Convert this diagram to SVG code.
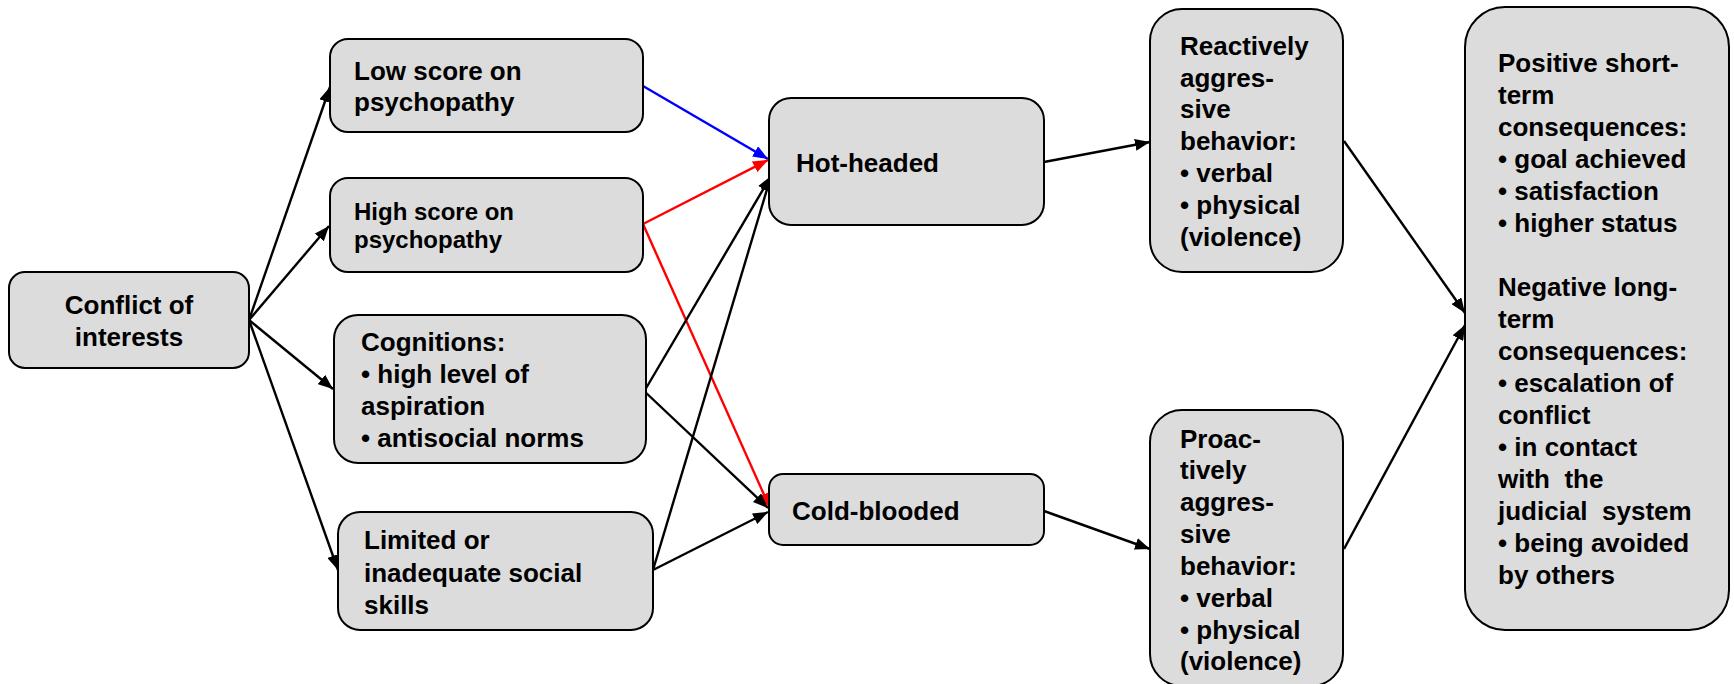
<svg xmlns="http://www.w3.org/2000/svg" width="1734" height="684" viewBox="0 0 1734 684">
<style>
.box{fill:#dcdcdc;stroke:#000;stroke-width:2}
.t{font-family:"Liberation Sans",Arial,sans-serif;font-weight:bold;font-size:26px;fill:#000}
.s{font-size:24px}
.c{stroke-width:2.4;fill:none}
.k{stroke:#000;marker-end:url(#ak)}
.r{stroke:#f00;marker-end:url(#ar)}
.b{stroke:#00f;marker-end:url(#ab)}
</style>
<defs>
<marker id="ak" markerUnits="userSpaceOnUse" markerWidth="16" markerHeight="12" refX="15" refY="6" orient="auto"><path d="M0,0 L15,6 L0,12 z" fill="#000"/></marker>
<marker id="ar" markerUnits="userSpaceOnUse" markerWidth="16" markerHeight="12" refX="15" refY="6" orient="auto"><path d="M0,0 L15,6 L0,12 z" fill="#f00"/></marker>
<marker id="ab" markerUnits="userSpaceOnUse" markerWidth="16" markerHeight="12" refX="15" refY="6" orient="auto"><path d="M0,0 L15,6 L0,12 z" fill="#00f"/></marker>
</defs>
<rect width="1734" height="684" fill="#fff"/>
<g id="connectors">
<line class="c k" x1="249" y1="320" x2="330" y2="87"/>
<line class="c k" x1="249" y1="320" x2="329" y2="226"/>
<line class="c k" x1="249" y1="320" x2="333" y2="389"/>
<line class="c k" x1="249" y1="320" x2="338" y2="570"/>
<line class="c b" x1="643" y1="86" x2="768" y2="159"/>
<line class="c r" x1="643" y1="224" x2="768" y2="160"/>
<line class="c r" x1="643" y1="224" x2="770" y2="508"/>
<line class="c k" x1="645" y1="390" x2="771" y2="176"/>
<line class="c k" x1="643" y1="390" x2="768" y2="508"/>
<line class="c k" x1="653" y1="570" x2="771" y2="176"/>
<line class="c k" x1="653" y1="570" x2="768" y2="512"/>
<line class="c k" x1="1044" y1="162" x2="1150" y2="142"/>
<line class="c k" x1="1044" y1="511" x2="1150" y2="549"/>
<line class="c k" x1="1344" y1="141" x2="1465" y2="313"/>
<line class="c k" x1="1344" y1="549" x2="1465" y2="325"/>
</g>
<g id="conflict">
<rect class="box" x="9" y="272" width="240" height="96" rx="16"/>
<text class="t" x="129" y="314" text-anchor="middle">Conflict of</text>
<text class="t" x="129" y="346" text-anchor="middle">interests</text>
</g>
<g id="low">
<rect class="box" x="330" y="39" width="313" height="93" rx="18"/>
<text class="t" x="354" y="80">Low score on</text>
<text class="t" x="354" y="111">psychopathy</text>
</g>
<g id="high">
<rect class="box" x="330" y="178" width="313" height="94" rx="18"/>
<text class="t s" x="354" y="220">High score on</text>
<text class="t s" x="354" y="248">psychopathy</text>
</g>
<g id="cognitions">
<rect class="box" x="334" y="315" width="312" height="148" rx="24"/>
<text class="t" x="361" y="351">Cognitions:</text>
<text class="t" x="361" y="383">• high level of</text>
<text class="t" x="361" y="415">aspiration</text>
<text class="t" x="361" y="447">• antisocial norms</text>
</g>
<g id="limited">
<rect class="box" x="338" y="512" width="315" height="118" rx="22"/>
<text class="t" x="364" y="549">Limited or</text>
<text class="t" x="364" y="582">inadequate social</text>
<text class="t" x="364" y="614">skills</text>
</g>
<g id="hot">
<rect class="box" x="769" y="98" width="275" height="127" rx="22"/>
<text class="t" x="796" y="172">Hot-headed</text>
</g>
<g id="cold">
<rect class="box" x="769" y="474" width="275" height="71" rx="14"/>
<text class="t" x="792" y="520">Cold-blooded</text>
</g>
<g id="reactive">
<rect class="box" x="1150" y="9" width="193" height="263" rx="32"/>
<text class="t" x="1180" y="55">Reactively</text>
<text class="t" x="1180" y="87">aggres-</text>
<text class="t" x="1180" y="118">sive</text>
<text class="t" x="1180" y="150">behavior:</text>
<text class="t" x="1180" y="182">• verbal</text>
<text class="t" x="1180" y="214">• physical</text>
<text class="t" x="1180" y="246">(violence)</text>
</g>
<g id="proactive">
<rect class="box" x="1150" y="410" width="193" height="276" rx="32"/>
<text class="t" x="1180" y="448">Proac-</text>
<text class="t" x="1180" y="479">tively</text>
<text class="t" x="1180" y="511">aggres-</text>
<text class="t" x="1180" y="543">sive</text>
<text class="t" x="1180" y="575">behavior:</text>
<text class="t" x="1180" y="607">• verbal</text>
<text class="t" x="1180" y="639">• physical</text>
<text class="t" x="1180" y="670">(violence)</text>
</g>
<g id="consequences">
<rect class="box" x="1465" y="7" width="264" height="623" rx="40"/>
<text class="t" x="1498" y="72">Positive short-</text>
<text class="t" x="1498" y="104">term</text>
<text class="t" x="1498" y="136">consequences:</text>
<text class="t" x="1498" y="168">• goal achieved</text>
<text class="t" x="1498" y="200">• satisfaction</text>
<text class="t" x="1498" y="232">• higher status</text>
<text class="t" x="1498" y="296">Negative long-</text>
<text class="t" x="1498" y="328">term</text>
<text class="t" x="1498" y="360">consequences:</text>
<text class="t" x="1498" y="392">• escalation of</text>
<text class="t" x="1498" y="424">conflict</text>
<text class="t" x="1498" y="456">• in contact</text>
<text class="t" x="1498" y="488" xml:space="preserve">with  the</text>
<text class="t" x="1498" y="520" xml:space="preserve">judicial  system</text>
<text class="t" x="1498" y="552">• being avoided</text>
<text class="t" x="1498" y="584">by others</text>
</g>
</svg>
